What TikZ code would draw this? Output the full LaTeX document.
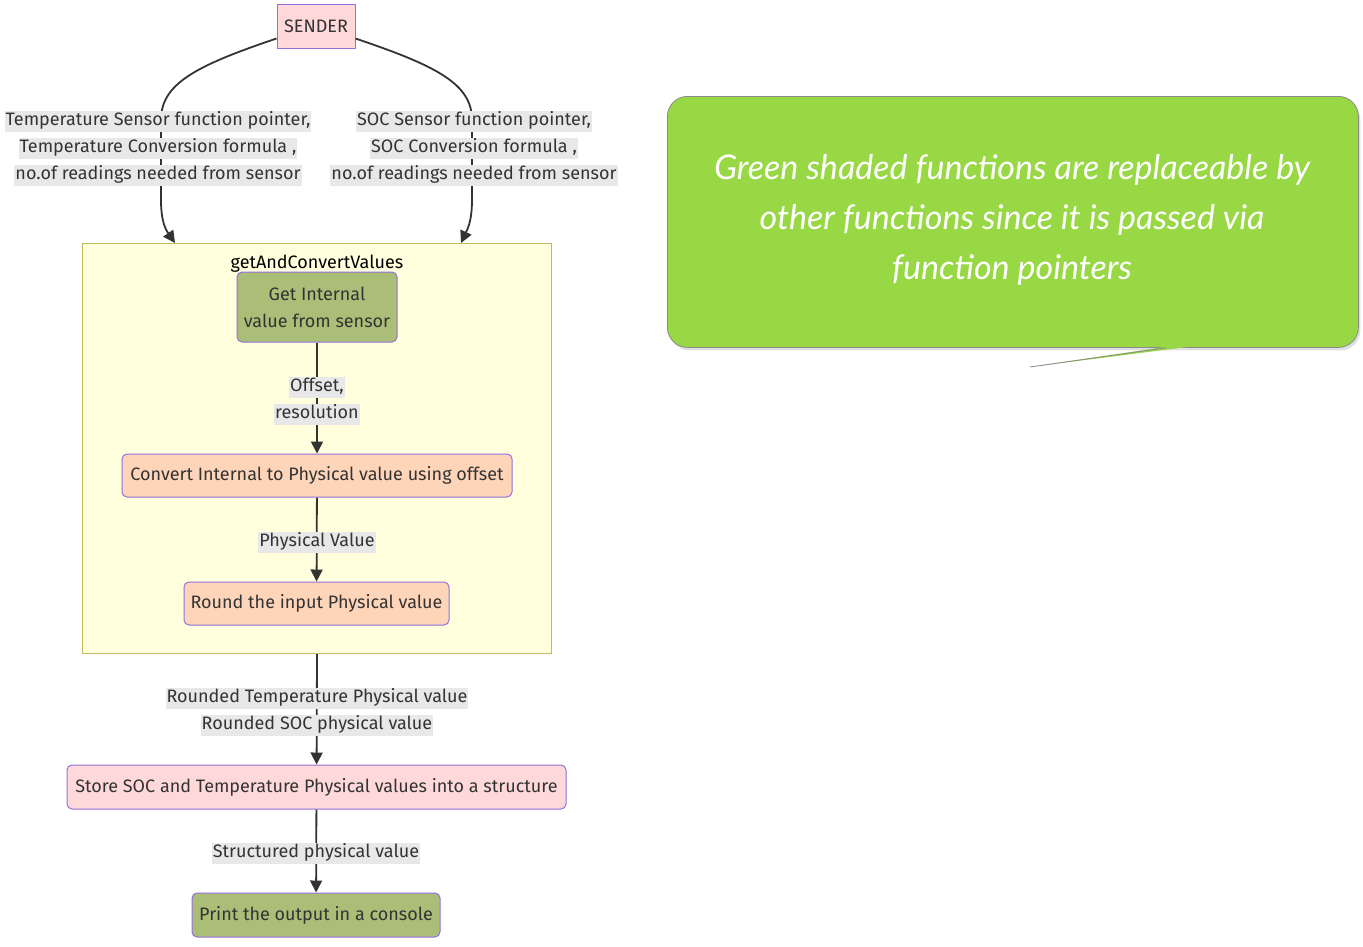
\documentclass[tikz,border=0pt]{standalone}
\usepackage{fontspec}
\setmainfont{Fira Sans}
\newfontfamily\notefont{Lato}
\usetikzlibrary{arrows.meta,shadows,calc}
\definecolor{nodeborder}{HTML}{9370DB}
\definecolor{pinkfill}{HTML}{FFD9D9}
\definecolor{peachfill}{HTML}{FFD5B9}
\definecolor{greenfill}{HTML}{ABBE78}
\definecolor{clusterfill}{HTML}{FFFFDE}
\definecolor{clusterborder}{HTML}{BDBD60}
\definecolor{labelbg}{HTML}{E8E8E8}
\definecolor{edgecol}{HTML}{333333}
\definecolor{notegreen}{HTML}{98D845}
\definecolor{textcol}{HTML}{333333}
\definecolor{noteborder}{HTML}{8A8A8A}
\tikzset{
  box/.style={draw=nodeborder, line width=1pt, rounded corners=5pt, text=textcol,
    font=\fontsize{18}{27}\selectfont, align=center, inner sep=0pt},
  elabel/.style={fill=labelbg, text=textcol, font=\fontsize{18}{20}\selectfont,
    inner xsep=1pt, inner ysep=0pt, text height=15pt, text depth=6pt},
  flow/.style={draw=edgecol, line width=1.8pt, -{Triangle[length=12pt,width=12pt]}},
}
\begin{document}
\begin{tikzpicture}[x=1pt,y=-1pt]
\useasboundingbox (0,0) rectangle (1363,946);
% cluster
\node[draw=clusterborder, fill=clusterfill, line width=1pt, minimum width=469pt,
  minimum height=410pt, inner sep=0pt, anchor=north west] (cluster) at (82,243) {};
\node[text=black, font=\fontsize{18}{20}\selectfont, inner sep=0pt] (ctitle) at (317,264) {getAndConvertValues};
% nodes
\node[box, rounded corners=0pt, fill=pinkfill, minimum width=78pt, minimum height=44pt] (sender) at (316,26) {SENDER};
\node[box, fill=greenfill, minimum width=160pt, minimum height=70pt] (get) at (317,307) {Get Internal\\value from sensor};
\node[box, fill=peachfill, minimum width=390pt, minimum height=43pt] (conv) at (317,475.5) {Convert Internal to Physical value using offset};
\node[box, fill=peachfill, minimum width=265pt, minimum height=43pt] (round) at (316.5,603.5) {Round the input Physical value};
\node[box, fill=pinkfill, minimum width=499pt, minimum height=44pt] (store) at (316.5,787) {Store SOC and Temperature Physical values into a structure};
\node[box, fill=greenfill, minimum width=248pt, minimum height=44pt] (print) at (316,915) {Print the output in a console};
% edge end coordinates
\coordinate (lend) at ([xshift=93pt]cluster.north west);
\coordinate (rend) at ([xshift=-91pt]cluster.north east);
% edges
\draw[flow] ([yshift=10pt]sender.south west) .. controls (195,66) and (161,84) .. (161,120)
  -- (161,200) .. controls (161,222) and (166,230) .. (lend);
\draw[flow] ([yshift=10pt]sender.south east) .. controls (437,66) and (472,84) .. (472,120)
  -- (472,200) .. controls (472,222) and (467,230) .. (rend);
\draw[flow] (get) -- (conv);
\draw[flow] (conv) -- (round);
\draw[flow] (cluster.south) -- (store);
\draw[flow] (store) -- (print);
% edge labels
\node[elabel] (l1) at (158,121) {Temperature Sensor function pointer,};
\node[elabel] (l2) at (158,148) {Temperature Conversion formula ,};
\node[elabel] (l3) at (158,175) {no.of readings needed from sensor};
\node[elabel] (r1) at (474,121) {SOC Sensor function pointer,};
\node[elabel] (r2) at (474,148) {SOC Conversion formula ,};
\node[elabel] (r3) at (474,175) {no.of readings needed from sensor};
\node[elabel] (o1) at (317,387) {Offset,};
\node[elabel] (o2) at (317,414) {resolution};
\node[elabel] (pv) at (317,542) {Physical Value};
\node[elabel] (rt) at (317,698) {Rounded Temperature Physical value};
\node[elabel] (rs) at (317,725) {Rounded SOC physical value};
\node[elabel] (sp) at (316,853) {Structured physical value};
% callout
\coordinate (tailtip) at (1030,367);
\node[draw=noteborder, fill=notegreen, line width=0.8pt, rounded corners=20pt,
  minimum width=691pt, minimum height=251pt, inner sep=0pt, anchor=north west,
  drop shadow={opacity=0.25, shadow xshift=2pt, shadow yshift=-3pt}] (note) at (667,96) {};
\fill[notegreen] ([xshift=-193pt,yshift=1pt]note.south east) -- (tailtip) -- ([xshift=-170pt,yshift=1pt]note.south east) -- cycle;
\draw[noteborder, line width=0.8pt] (tailtip) -- ([xshift=-193pt]note.south east);
\node[text=white, font=\notefont\itshape\fontsize{34}{50}\selectfont, align=center, inner sep=0pt]
  (notetext) at (1012,220) {Green shaded functions are replaceable by\\other functions since it is passed via\\function pointers};
\end{tikzpicture}
\end{document}
